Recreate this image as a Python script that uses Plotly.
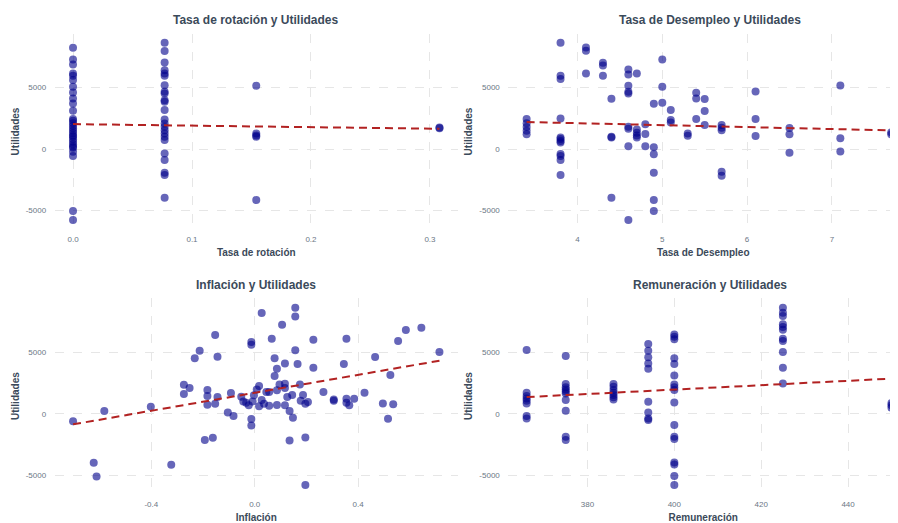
import plotly.graph_objects as go

# ---------------- data ----------------
rot_x = [0.0, 0.0, 0.0, 0.0, 0.0, 0.0, 0.0, 0.0, 0.0, 0.0, 0.0, 0.0, 0.0, 0.0, 0.0,
         0.0, 0.0, 0.0, 0.0, 0.0, 0.0, 0.0, 0.0, 0.0, 0.0, 0.0, 0.0, 0.0, 0.0,
         0.077, 0.077, 0.077, 0.077, 0.077, 0.077, 0.077, 0.077, 0.077, 0.077, 0.077, 0.077,
         0.077, 0.077, 0.077, 0.077, 0.077, 0.077, 0.077, 0.077, 0.077, 0.077, 0.077, 0.077,
         0.154, 0.154, 0.154, 0.154, 0.154,
         0.308, 0.308]
rot_y = [8240, 7290, 6880, 6150, 5960, 5610, 5070, 4610, 4120, 3710, 3120, 2450, 2300, 2100, 1900,
         1700, 1500, 1300, 1100, 1000, 800, 600, 400, 200, 100, -220, -570, -5040, -5770,
         8640, 7970, 7050, 6420, 6150, 5960, 5200, 4660, 4530, 3980, 3850, 3170,
         2410, 2090, 1810, 1540, 1270, 1000, 730, -350, -890, -1930, -2110, -3960,
         5150, 1270, 1100, 1000, -4150,
         1760, 1700]
rot_trend_x = [0.0, 0.308]
rot_trend_y = [2030, 1650]

des_x = [3.4, 3.4, 3.4, 3.4, 3.4,
         3.8, 3.8, 3.8, 3.8, 3.8, 3.8, 3.8, 3.8, 3.8, 3.8, 3.8, 3.8,
         4.1, 4.1, 4.1,
         4.3, 4.3, 4.3,
         4.4, 4.4, 4.4, 4.4,
         4.6, 4.6, 4.6, 4.6, 4.6, 4.6, 4.6, 4.6, 4.6,
         4.7, 4.7, 4.7, 4.7, 4.7,
         4.8, 4.8, 4.8,
         4.9, 4.9, 4.9, 4.9, 4.9, 4.9,
         5.0, 5.0, 5.0,
         5.1, 5.1, 5.1,
         5.3, 5.3,
         5.4, 5.4, 5.4,
         5.5, 5.5, 5.5,
         5.7, 5.7, 5.7, 5.7, 5.7,
         6.1, 6.1, 6.1,
         6.5, 6.5, 6.5,
         7.1, 7.1, 7.1,
         7.7, 7.7]
des_y = [2450, 2100, 1800, 1500, 1200,
         8640, 5960, 5690, 2490, 950, 810, 650, 540, -410, -570, -890, -2110,
         8270, 8000, 6150,
         7020, 6800, 5960,
         4090, 1000, 950, -3960,
         6480, 6070, 5150, 4660, 4530, 1810, 1650, 240, -5770,
         6150, 1600, 1330, 1100, 950,
         2010, 1220, 240,
         3680, 140, -430, -1930, -4150, -5040,
         7290, 5070, 3770,
         3170, 2360, 2170,
         1270, 1080,
         4580, 4120, 2440,
         4070, 3090, 1950,
         1950, 1730, 1540, -1850, -2170,
         4690, 2440, 1060,
         1710, 1200, -300,
         5180, 890, -190,
         1360, 1200]
des_trend_x = [3.4, 7.7]
des_trend_y = [2200, 1520]

inf_x = [-0.703, -0.623, -0.612, -0.582, -0.402, -0.323, -0.274, -0.274, -0.252, -0.232,
         -0.213, -0.193, -0.183, -0.183, -0.183, -0.162, -0.153, -0.153, -0.144, -0.144,
         -0.104, -0.092, -0.082, -0.052, -0.044, -0.033, -0.023, -0.013, -0.013, -0.013,
         -0.013, -0.008, -0.003, 0.008, 0.017, 0.017, 0.027, 0.027, 0.036, 0.045,
         0.056, 0.056, 0.066, 0.077, 0.077, 0.086, 0.086, 0.086, 0.096, 0.106,
         0.117, 0.117, 0.117, 0.117, 0.126, 0.135, 0.135, 0.145, 0.148, 0.157,
         0.157, 0.157, 0.166, 0.175, 0.178, 0.187, 0.196, 0.196, 0.196, 0.206,
         0.227, 0.227, 0.266, 0.306, 0.306, 0.345, 0.355, 0.355, 0.355, 0.366,
         0.385, 0.425, 0.466, 0.496, 0.516, 0.525, 0.536, 0.555, 0.585, 0.645,
         0.715]
inf_y = [-600, -3970, -5080, 220, 570, -4130, 2350, 1600, 2080, 4490,
         5110, -2130, 1920, 1430, 730, -1945, 6380, 810, 4620, 1350,
         110, 1680, -190, 1380, 1000, 890, 680, 5810, 5600, -430,
         -945, 1000, 1490, 1975, 2245, 600, 8165, 1110, 810, 1760,
         1760, 650, 6080, 4490, 3060, 3650, 1895, 700, 2380, 7220,
         4080, 2430, 2080, 680, 1350, 220, -2160, 1515, -320, 8600,
         7890, 5140, 4030, 2380, 1055, 1515, 810, -1920, -5780, 950,
         6000, 3730, 1760, 1160, 1055, 4030, 6080, 1220, 890, 680,
         1220, 1700, 4600, 840, -400, 3140, 760, 5890, 6790, 6975,
         5000]
inf_trend_x = [-0.703, 0.715]
inf_trend_y = [-860, 4300]

rem_x = [366, 366, 366, 366, 366, 366, 366, 366,
         375, 375, 375, 375, 375, 375, 375, 375, 375, 375,
         386, 386, 386, 386, 386, 386, 386,
         394, 394, 394, 394, 394, 394, 394, 394, 394,
         400, 400, 400, 400, 400, 400, 400, 400, 400, 400, 400, 400, 400, 400, 400, 400, 400,
         425, 425, 425, 425, 425, 425, 425, 425, 425, 425, 425,
         450, 450, 450]
rem_y = [5160, 1700, 1430, 1240, 1060, 840, -190, -380,
         4680, 2410, 2140, 1970, 1810, 1650, 1110, 240, -1860, -2130,
         2410, 2190, 1920, 1700, 1510, 1330, 1160,
         5650, 5110, 4570, 4080, 3650, 970, 110, -380, -510,
         6430, 6250, 6030, 4490, 4030, 3110, 2380, 2140, 1920, 920, -920, -1860, -2050, -3950, -4110, -5050, -5780,
         8600, 8190, 7920, 7250, 7030, 6810, 6080, 5890, 5000, 3730, 2460,
         870, 680, 490]
rem_trend_x = [366, 450]
rem_trend_y = [1350, 2850]

titles = ["Tasa de rotación y Utilidades", "Tasa de Desempleo y Utilidades",
          "Inflación y Utilidades", "Remuneración y Utilidades"]
x_titles = ["Tasa de rotación", "Tasa de Desempleo", "Inflación", "Remuneración"]
y_title = "Utilidades"

y_tickvals = [-5000, 0, 5000]
y_ticktext = ["-5000", "0", "5000"]
rot_tickvals = [0.0, 0.1, 0.2, 0.3]
rot_ticktext = ["0.0", "0.1", "0.2", "0.3"]
des_tickvals = [4, 5, 6, 7]
des_ticktext = ["4", "5", "6", "7"]
inf_tickvals = [-0.4, 0.0, 0.4]
inf_ticktext = ["-0.4", "0.0", "0.4"]
rem_tickvals = [380, 400, 420, 440]
rem_ticktext = ["380", "400", "420", "440"]

# ---------------- styling ----------------
# the page body adds an 8px offset, so the figure fills the rest of the window
W, H = 890, 515
FONT = "Liberation Sans, Arial, sans-serif"
TITLE_COL = "#3b4a5a"
TICK_COL = "#6b7785"
GRID_COL = "#e6e6e6"
PT_COL = "rgba(0,0,139,0.6)"
LINE_COL = "#B22222"

panels = [
    (rot_x, rot_y, rot_trend_x, rot_trend_y, rot_tickvals, rot_ticktext, [-0.0154, 0.3234]),
    (des_x, des_y, des_trend_x, des_trend_y, des_tickvals, des_ticktext, [3.185, 7.78]),
    (inf_x, inf_y, inf_trend_x, inf_trend_y, inf_tickvals, inf_ticktext, [-0.774, 0.786]),
    (rem_x, rem_y, rem_trend_x, rem_trend_y, rem_tickvals, rem_ticktext, [361.8, 451.5]),
]
LEFT = [46.7 / W, 449.8 / W]
RIGHT = [500.4 / W, 1.0]
TOP = [1 - 221 / H, 1 - 26 / H]
BOT = [1 - 485.9 / H, 1 - 290.3 / H]
x_domains = [LEFT, RIGHT, LEFT, RIGHT]
y_domains = [TOP, TOP, BOT, BOT]
title_pos = [(248.0 / W, 1 - 12 / H), (701.5 / W, 1 - 12 / H),
             (248.0 / W, 1 - 277 / H), (701.5 / W, 1 - 277 / H)]

fig = go.Figure()
layout = dict(
    width=W, height=H,
    margin=dict(l=0, r=0, t=0, b=0),
    paper_bgcolor="white", plot_bgcolor="white",
    showlegend=False,
    font=dict(family=FONT, color=TICK_COL, size=8),
    annotations=[],
)

for i, (px, py, tx, ty, tv, tt, xr) in enumerate(panels):
    n = i + 1
    xa = "x" if n == 1 else f"x{n}"
    ya = "y" if n == 1 else f"y{n}"
    fig.add_trace(go.Scatter(
        x=px, y=py, mode="markers", xaxis=xa, yaxis=ya,
        marker=dict(color=PT_COL, size=8, line=dict(width=0)),
        cliponaxis=False,
    ))
    fig.add_trace(go.Scatter(
        x=tx, y=ty, mode="lines", xaxis=xa, yaxis=ya,
        line=dict(color=LINE_COL, width=2, dash="8px,5px"),
    ))
    layout["xaxis" if n == 1 else f"xaxis{n}"] = dict(
        domain=x_domains[i], range=xr, anchor=ya,
        tickmode="array", tickvals=tv, ticktext=tt,
        showgrid=True, gridcolor=GRID_COL, griddash="dash", gridwidth=1,
        zeroline=False, showline=False,
        ticks="outside", ticklen=2, tickcolor="rgba(0,0,0,0)",
        tickfont=dict(size=8, color=TICK_COL, family=FONT),
        title=dict(text=f"<b>{x_titles[i]}</b>", standoff=6,
                   font=dict(size=10, color=TITLE_COL, family=FONT)),
    )
    layout["yaxis" if n == 1 else f"yaxis{n}"] = dict(
        domain=y_domains[i], range=[-6500, 9360], anchor=xa,
        tickmode="array", tickvals=y_tickvals, ticktext=y_ticktext,
        showgrid=True, gridcolor=GRID_COL, griddash="dash", gridwidth=1,
        zeroline=False, showline=False,
        ticks="outside", ticklen=6, tickcolor="rgba(0,0,0,0)",
        tickfont=dict(size=8, color=TICK_COL, family=FONT),
        title=dict(text=f"<b>{y_title}</b>", standoff=4,
                   font=dict(size=10, color=TITLE_COL, family=FONT)),
    )
    layout["annotations"].append(dict(
        text=f"<b>{titles[i]}</b>", x=title_pos[i][0], y=title_pos[i][1],
        xref="paper", yref="paper", xanchor="center", yanchor="middle",
        showarrow=False, font=dict(size=12, color=TITLE_COL, family=FONT),
    ))

fig.update_layout(**layout)
fig.write_html("out.html")
